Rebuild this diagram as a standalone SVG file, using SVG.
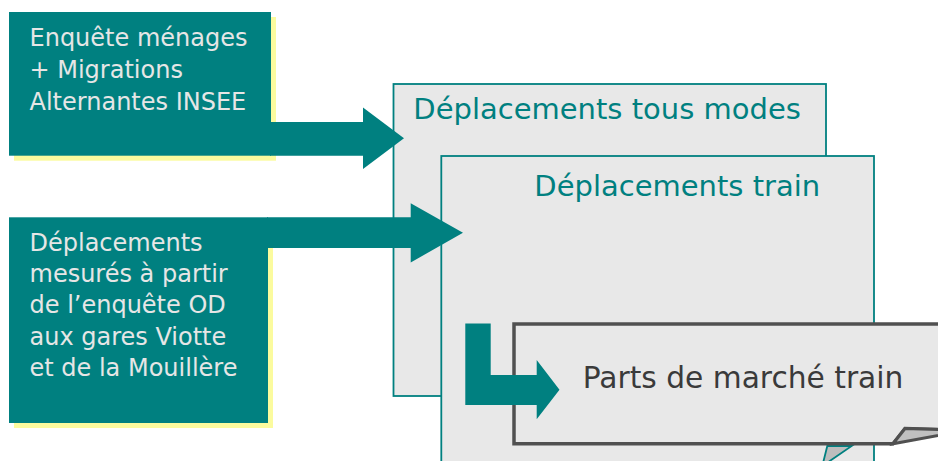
<svg xmlns="http://www.w3.org/2000/svg" width="938" height="461" viewBox="0 0 938 461">
<style>
.src{fill:#008080}
.shadow{fill:#fbfb9e}
.srctext{font-family:"DejaVu Sans",sans-serif;font-size:24px;fill:#e6e6e6}
.panel{fill:#e8e8e8;stroke:#008080;stroke-width:1.8}
.ttl{font-family:"DejaVu Sans",sans-serif;font-size:29px;fill:#008080}
.arrow{fill:#008080}
.res{fill:#e8e8e8;stroke:#505050;stroke-width:3.5;stroke-linejoin:miter}
.restext{font-family:"DejaVu Sans",sans-serif;font-size:29.7px;fill:#3a3a3a}
</style>
<rect x="0" y="0" width="938" height="461" fill="#ffffff"/>
<g id="node-tous-modes">
<rect class="panel" x="393.5" y="84" width="432.5" height="312"/>
<text class="ttl" x="413.3" y="119">Déplacements tous modes</text>
</g>
<g id="node-enquete">
<rect class="shadow" x="14" y="17" width="262" height="143.7"/>
<rect class="src" x="9" y="12" width="262" height="143.7"/>
<text class="srctext" x="29.5" y="45.7">Enquête ménages</text>
<text class="srctext" x="29.5" y="77.9">+ Migrations</text>
<text class="srctext" x="29.5" y="110">Alternantes INSEE</text>
</g>
<g id="node-mesures">
<rect class="shadow" x="14" y="222.3" width="259" height="205.7"/>
<rect class="src" x="9" y="217.3" width="259" height="205.7"/>
<text class="srctext" x="29.5" y="251">Déplacements</text>
<text class="srctext" x="29.5" y="282.2">mesurés à partir</text>
<text class="srctext" x="29.5" y="313.4">de l’enquête OD</text>
<text class="srctext" x="29.5" y="344.6">aux gares Viotte</text>
<text class="srctext" x="29.5" y="375.8">et de la Mouillère</text>
</g>
<g id="node-train">
<rect class="panel" x="441.3" y="156" width="432.7" height="320"/>
<text class="ttl" x="534.3" y="195.7">Déplacements train</text>
<polygon points="823.3,462 827.3,446 851.7,446 828.3,462" fill="#bdbdbd" stroke="#008080" stroke-width="1.8"/>
</g>
<g id="node-parts">
<path class="res" d="M514,324 H950 V430 L905,428.5 L893,443.8 H514 Z"/>
<polygon points="893,443.8 905,428.5 965,430.5" fill="#c0c0c0" stroke="#505050" stroke-width="3" stroke-linejoin="miter"/>
<text class="restext" x="582.7" y="388">Parts de marché train</text>
</g>
<g id="connectors">
<polygon class="arrow" points="270,122 363,122 363,107.5 404,138.3 363,169 363,155.7 270,155.7"/>
<polygon class="arrow" points="267,217.3 410.7,217.3 410.7,203.3 463,232.7 410.7,262.5 410.7,248 267,248"/>
<polygon class="arrow" points="465.3,323.5 490.7,323.5 490.7,375 536.7,375 536.7,360 559.5,389.7 536.7,419.3 536.7,405 465.3,405"/>
</g>
</svg>
